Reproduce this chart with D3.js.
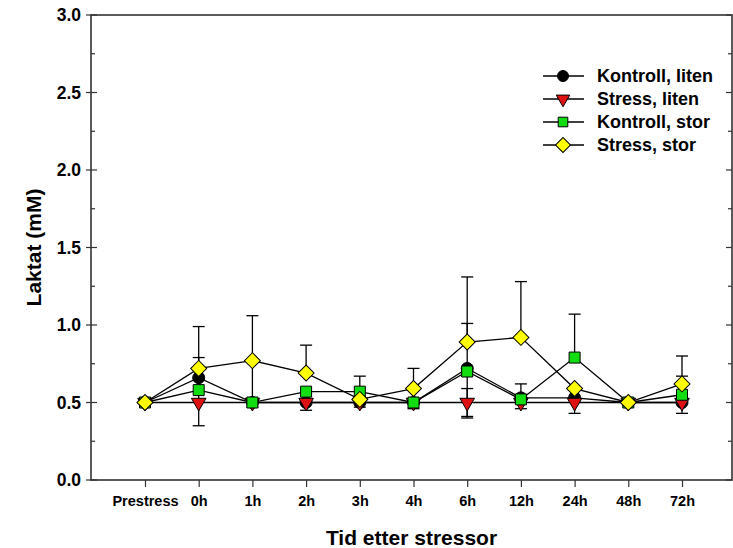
<!DOCTYPE html>
<html><head><meta charset="utf-8">
<script src="https://cdn.jsdelivr.net/npm/d3@7"></script>
<style>html,body{margin:0;padding:0;background:#fff;}svg text{font-family:"Liberation Sans",Arial,sans-serif;font-weight:bold;fill:#000;}</style>
</head><body>
<svg id="chart" width="733" height="548"></svg>
<script>
const categories = ["Prestress","0h","1h","2h","3h","4h","6h","12h","24h","48h","72h"];
const yTicks = [0,0.5,1.0,1.5,2.0,2.5,3.0];
const kontrollLiten     = [0.50,0.66,0.50,0.50,0.50,0.50,0.72,0.53,0.53,0.50,0.50];
const kontrollLitenUp   = [0,0,0,0,0,0,0,0,0,0,0];
const kontrollLitenDown = [0,0,0,0.05,0,0,0,0,0,0,0];
const stressLiten       = [0.50,0.50,0.50,0.50,0.50,0.50,0.50,0.50,0.50,0.50,0.50];
const stressLitenUp     = [0,0,0,0,0,0,0.09,0,0,0,0];
const stressLitenDown   = [0,0,0,0,0,0,0.09,0,0.07,0,0.07];
const kontrollStor      = [0.50,0.58,0.50,0.57,0.57,0.50,0.70,0.52,0.79,0.50,0.55];
const kontrollStorUp    = [0,0.21,0,0,0.10,0,0.31,0.10,0.28,0,0.12];
const kontrollStorDown  = [0,0.23,0,0,0.10,0,0.30,0.06,0,0,0];
const stressStor        = [0.50,0.72,0.77,0.69,0.52,0.59,0.89,0.92,0.59,0.50,0.62];
const stressStorUp      = [0,0.27,0.29,0.18,0,0.13,0.42,0.36,0,0,0.18];
const stressStorDown    = [0,0,0.30,0,0,0.13,0,0,0,0,0];
const seriesNames = ["Kontroll, liten","Stress, liten","Kontroll, stor","Stress, stor"];

const series = [
  {name:seriesNames[0], v:kontrollLiten, up:kontrollLitenUp, dn:kontrollLitenDown, shape:"circle", fill:"#000000"},
  {name:seriesNames[1], v:stressLiten, up:stressLitenUp, dn:stressLitenDown, shape:"triangle", fill:"#dd1111"},
  {name:seriesNames[2], v:kontrollStor, up:kontrollStorUp, dn:kontrollStorDown, shape:"square", fill:"#11dd11"},
  {name:seriesNames[3], v:stressStor, up:stressStorUp, dn:stressStorDown, shape:"diamond", fill:"#ffff00"}
];

const L=91, R=732, T=15, B=480;
const svg = d3.select("#chart");
const x = d3.scalePoint().domain(categories).range([145,682]);
const y = d3.scaleLinear().domain([0,3]).range([B,T]);
const axisColor = "#333";

function symbolPath(shape, s){
  if(shape==="circle") return d3.symbol(d3.symbolCircle, Math.PI*s*s)();
  if(shape==="square") return d3.symbol(d3.symbolSquare, (2*s)*(2*s))();
  if(shape==="diamond") return d3.symbol(d3.symbolSquare, 2*s*s)();
  if(shape==="triangle") return d3.symbol(d3.symbolTriangle, s*s*2.2)();
}
function symbolTransform(shape, cx, cy){
  if(shape==="diamond") return `translate(${cx},${cy}) rotate(45)`;
  if(shape==="triangle") return `translate(${cx},${cy}) rotate(180)`;
  return `translate(${cx},${cy})`;
}
const markerSize = {circle:6, square:5.5, diamond:8, triangle:6.5};
const legendSize = {circle:5.5, square:4.8, diamond:7.5, triangle:6};

// axes
const yMinor = d3.range(0,3.01,0.25);
svg.append("g").selectAll("line").data(yMinor).join("line")
  .attr("x1",d=> (Math.round(d*100)%50===0)? L-5 : L)
  .attr("x2",d=> (Math.round(d*100)%50===0)? L+6 : L+4)
  .attr("y1",d=>y(d)).attr("y2",d=>y(d))
  .attr("stroke",axisColor).attr("stroke-width",1.2);
svg.append("g").selectAll("line").data(yMinor).join("line")
  .attr("x1",d=> (Math.round(d*100)%50===0)? R-6 : R-4)
  .attr("x2",R)
  .attr("y1",d=>y(d)).attr("y2",d=>y(d))
  .attr("stroke",axisColor).attr("stroke-width",1.2);
svg.append("g").selectAll("text").data(yTicks).join("text")
  .attr("x",81).attr("y",d=>y(d)).attr("dy","0.36em").attr("text-anchor","end")
  .attr("font-size",17.5).text(d=>d.toFixed(1));

const gB = svg.append("g").attr("transform",`translate(0,${B})`)
  .call(d3.axisBottom(x).tickSize(7).tickSizeOuter(0).tickPadding(9));
gB.select(".domain").remove();
gB.selectAll(".tick line").attr("stroke",axisColor).attr("stroke-width",1.2);
gB.selectAll(".tick text").attr("font-size",14.5).attr("font-family",'"Liberation Sans",Arial,sans-serif').attr("font-weight","bold").attr("fill","#000");

// frame
svg.append("rect").attr("x",L).attr("y",T).attr("width",R-L).attr("height",B-T)
  .attr("fill","none").attr("stroke",axisColor).attr("stroke-width",1.6);

// titles
svg.append("text").attr("x",(L+R)/2).attr("y",537).attr("dy","0.36em").attr("text-anchor","middle")
  .attr("font-size",21).text("Tid etter stressor");
svg.append("text").attr("transform",`translate(33,${(T+B)/2}) rotate(-90)`).attr("dy","0.36em")
  .attr("text-anchor","middle").attr("font-size",21).text("Laktat (mM)");

// series
const line = d3.line().x((d,i)=>x(categories[i])).y(d=>y(d));
const gData = svg.append("g");
series.forEach(s=>{
  gData.append("path").datum(s.v).attr("d",line).attr("fill","none")
    .attr("stroke","#000").attr("stroke-width",1.3);
});
series.forEach(s=>{
  const g = gData.append("g");
  s.v.forEach((v,i)=>{
    const cx = x(categories[i]);
    [[s.up[i],1],[s.dn[i],-1]].forEach(([e,dir])=>{
      if(e>0){
        const ye = y(v+dir*e);
        g.append("line").attr("x1",cx).attr("x2",cx).attr("y1",y(v)).attr("y2",ye).attr("stroke","#000").attr("stroke-width",1.3);
        g.append("line").attr("x1",cx-6).attr("x2",cx+6).attr("y1",ye).attr("y2",ye).attr("stroke","#000").attr("stroke-width",1.3);
      }
    });
  });
});
series.forEach(s=>{
  gData.append("g").selectAll("path").data(s.v).join("path")
    .attr("d",symbolPath(s.shape, markerSize[s.shape]))
    .attr("transform",(d,i)=>symbolTransform(s.shape, x(categories[i]), y(d)))
    .attr("fill",s.fill).attr("stroke","#000").attr("stroke-width",1);
});

// legend
const leg = svg.append("g");
series.forEach((s,i)=>{
  const yy = 76 + i*23;
  leg.append("line").attr("x1",543).attr("x2",584).attr("y1",yy).attr("y2",yy).attr("stroke","#000").attr("stroke-width",1.3);
  leg.append("path").attr("d",symbolPath(s.shape, legendSize[s.shape]))
    .attr("transform",symbolTransform(s.shape,563,yy))
    .attr("fill",s.fill).attr("stroke","#000").attr("stroke-width",1);
  leg.append("text").attr("x",597).attr("y",yy).attr("dy","0.36em").attr("font-size",18).text(s.name);
});
</script>
</body></html>
